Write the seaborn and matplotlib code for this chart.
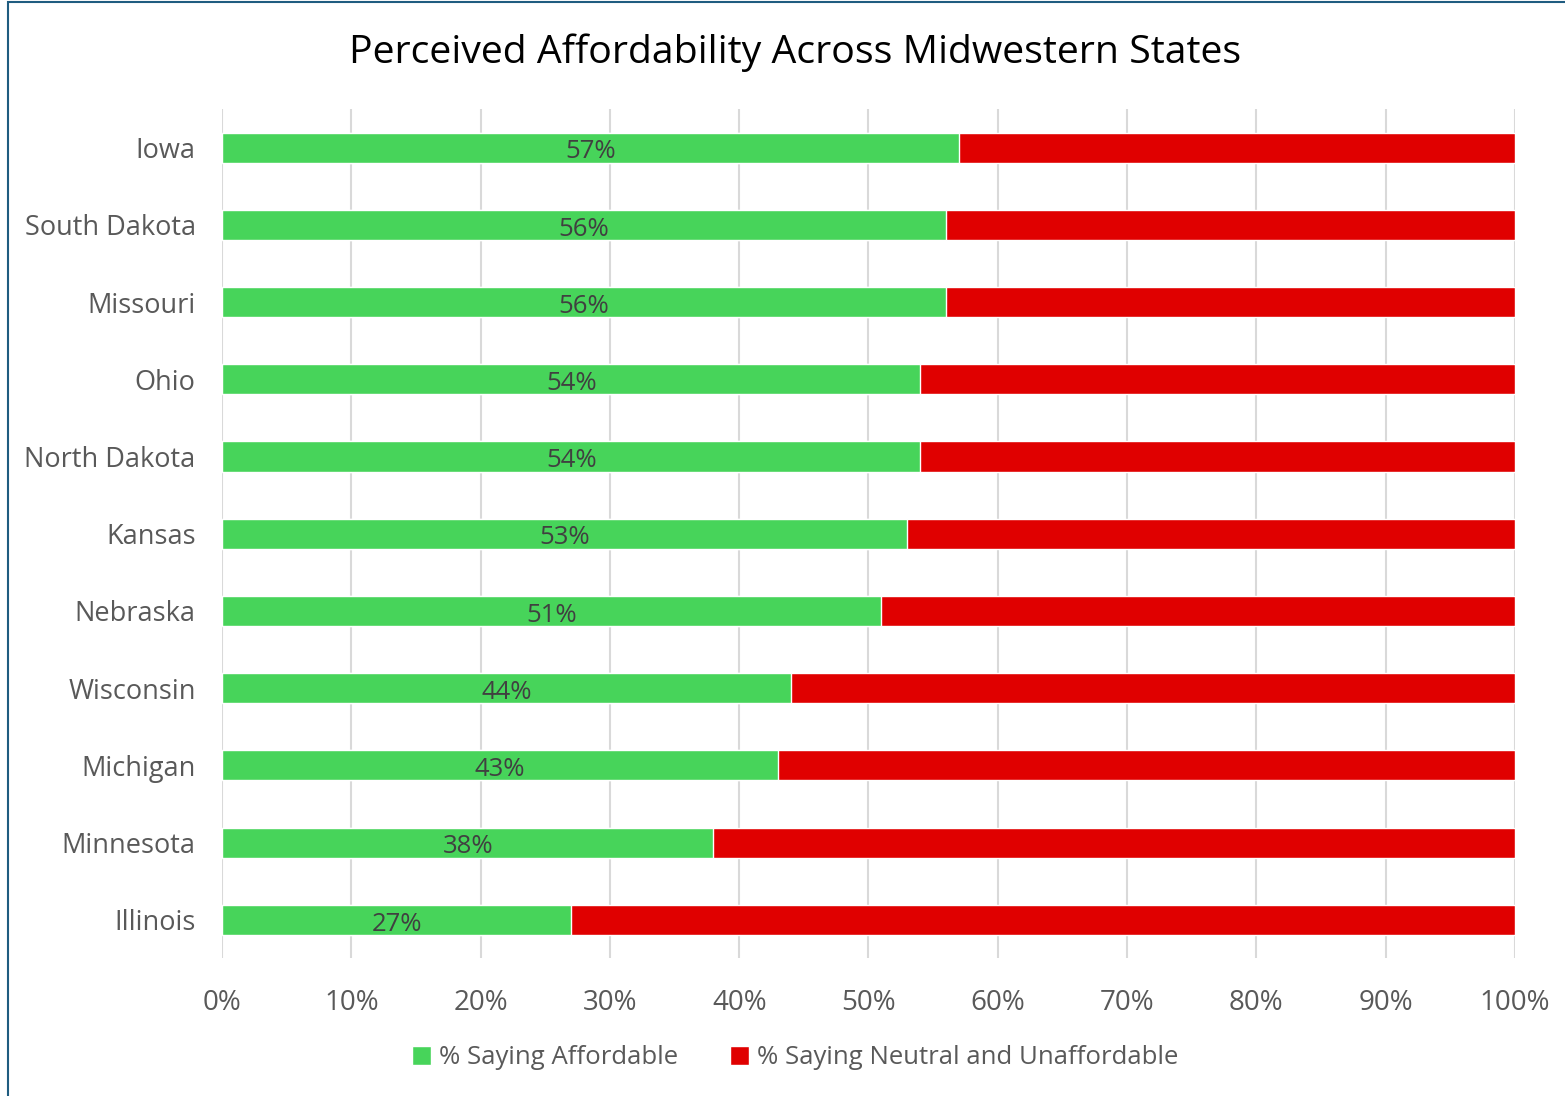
import matplotlib
matplotlib.use("Agg")
import numpy as np
import pandas as pd
import matplotlib.pyplot as plt
from matplotlib.patches import Patch, Rectangle
from matplotlib.ticker import PercentFormatter
import seaborn as sns

# -------------------------
# Data
# -------------------------
states = ["Iowa", "South Dakota", "Missouri", "Ohio", "North Dakota", "Kansas",
          "Nebraska", "Wisconsin", "Michigan", "Minnesota", "Illinois"]
affordable = [57, 56, 56, 54, 54, 53, 51, 44, 43, 38, 27]
unaffordable = [43, 44, 44, 46, 46, 47, 49, 56, 57, 62, 73]

GREEN = "#47D45A"
RED = "#E00000"
TEXT = "#595959"

df = pd.DataFrame({"state": states, "affordable": affordable, "unaffordable": unaffordable})
df["total"] = df["affordable"] + df["unaffordable"]

sns.set_theme(style="white")
plt.rcParams["font.family"] = ["Open Sans", "DejaVu Sans"]

fig = plt.figure(figsize=(15.65, 10.96), dpi=100)
ax = fig.add_axes([0.1419, 0.1255, 0.968 - 0.1419, 0.9005 - 0.1255])

# stacked: red total first, green on top
sns.barplot(data=df, y="state", x="total", color=RED, width=0.39, saturation=1,
            orient="h", ax=ax, zorder=2)
sns.barplot(data=df, y="state", x="affordable", color=GREEN, width=0.39, saturation=1,
            orient="h", ax=ax, zorder=3)

for cont in ax.containers[1:]:
    ax.bar_label(cont, labels=[f"{v}%" for v in df["affordable"]], label_type="center",
                 fontsize=18.5, color="#404040", padding=0)
# nudge labels slightly down like the original
for t in ax.texts:
    t.set_va("center")
    t.xyann = (0, -3)

ax.set_xlim(0, 100)
ax.set_ylim(len(states) - 0.5, -0.5)
ax.set_xticks(np.arange(0, 101, 10))
ax.xaxis.set_major_formatter(PercentFormatter(decimals=0))
ax.grid(axis="x", color="#D9D9D9", linewidth=1.5, zorder=0)
ax.set_axisbelow(True)
for s in ax.spines.values():
    s.set_visible(False)
ax.tick_params(axis="both", length=0, colors=TEXT)
ax.tick_params(axis="x", pad=22, labelsize=20)
ax.tick_params(axis="y", pad=19, labelsize=19.5)
ax.set_xlabel("")
ax.set_ylabel("")

fig.text(0.508, 0.952, "Perceived Affordability Across Midwestern States",
         ha="center", va="center", fontsize=28.3, color="black")

handles = [Patch(facecolor=GREEN, label="% Saying Affordable"),
           Patch(facecolor=RED, label="% Saying Neutral and Unaffordable")]
fig.legend(handles=handles, loc="center", bbox_to_anchor=(0.508, 0.035), ncol=2,
           frameon=False, fontsize=18.5, labelcolor=TEXT, handlelength=0.75, handleheight=0.75,
           handletextpad=0.3, columnspacing=2.0)

# chart border (left and top edges visible)
fig.patches.append(Rectangle((8 / 1565, -0.1), 1.2, 1.1 - 2 / 1096, transform=fig.transFigure,
                             fill=False, edgecolor="#1F5C80", linewidth=1.5))

fig.savefig("out.png", dpi=100)
